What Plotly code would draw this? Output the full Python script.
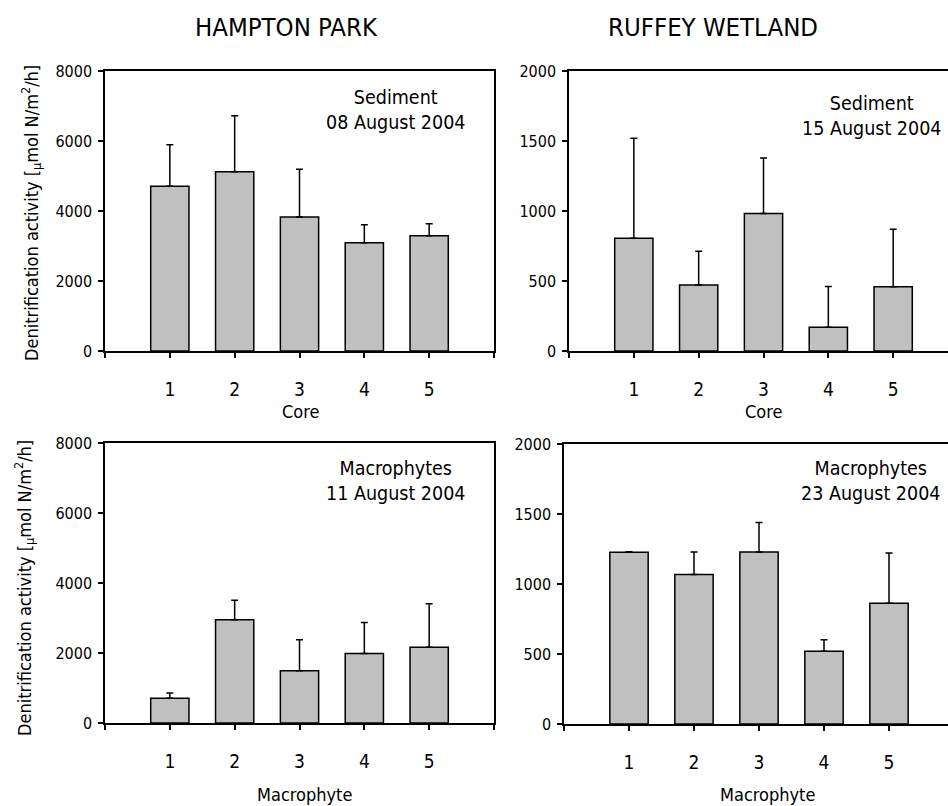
import plotly.graph_objects as go

W, H = 948, 806
FONT = "DejaVu Sans Condensed, Noto Sans, sans-serif"

categories = [1, 2, 3, 4, 5]
tick_labels = ["1", "2", "3", "4", "5"]

hp_sediment = [4710, 5120, 3830, 3090, 3290]
hp_sediment_sd = [1180, 1600, 1365, 515, 345]
rw_sediment = [806, 471, 982, 169, 459]
rw_sediment_sd = [714, 242, 397, 292, 411]
hp_macro = [706, 2950, 1490, 1986, 2167]
hp_macro_sd = [154, 554, 887, 888, 1241]
rw_macro = [1226, 1067, 1229, 519, 862]
rw_macro_sd = [5, 162, 211, 83, 359]

site_titles = ["HAMPTON PARK", "RUFFEY WETLAND"]
panel_notes = ["Sediment<br>08 August 2004", "Sediment<br>15 August 2004",
               "Macrophytes<br>11 August 2004", "Macrophytes<br>23 August 2004"]
x_titles = ["Core", "Core", "Macrophyte", "Macrophyte"]
y_title = "Denitrification activity [<sub>μ</sub>mol N/m<sup>2</sup>/h]"


def px(x):
    return x / W


def py(y):
    return 1 - y / H


panels = [
    dict(l=105, r=494, t=71, b=351, full=389, ymax=8000, dtick=2000,
         vals=hp_sediment, sd=hp_sediment_sd),
    dict(l=569, r=948, t=71, b=351, full=389, ymax=2000, dtick=500,
         vals=rw_sediment, sd=rw_sediment_sd),
    dict(l=105, r=494, t=443, b=723, full=389, ymax=8000, dtick=2000,
         vals=hp_macro, sd=hp_macro_sd),
    dict(l=564, r=948, t=444, b=724, full=390, ymax=2000, dtick=500,
         vals=rw_macro, sd=rw_macro_sd),
]

fig = go.Figure()
layout = dict(width=W, height=H, margin=dict(l=0, r=0, t=0, b=0, autoexpand=False),
              paper_bgcolor="white", plot_bgcolor="white", showlegend=False,
              font=dict(family=FONT, color="black"))

for i, p in enumerate(panels):
    n = i + 1
    xa = "x" if n == 1 else f"x{n}"
    ya = "y" if n == 1 else f"y{n}"
    fig.add_trace(go.Bar(
        x=categories, y=p["vals"], xaxis=xa, yaxis=ya, width=0.59,
        marker=dict(color="#C0C0C0", line=dict(color="black", width=1.5)),
        error_y=dict(type="data", array=p["sd"], arrayminus=[0] * 5,
                     symmetric=False, color="black", thickness=1.5, width=3.5),
        hoverinfo="skip"))
    right_panel = i % 2 == 1
    xmax = 6 * (p["r"] - p["l"]) / p["full"]
    layout["xaxis" if n == 1 else f"xaxis{n}"] = dict(
        domain=[px(p["l"]), px(p["r"])], range=[0, xmax], anchor=ya,
        tickmode="array", tickvals=categories, ticktext=tick_labels,
        ticks="outside", ticklen=5, tickwidth=1.5, tickcolor="black",
        minor=dict(tickmode="array", tickvals=[0, 6], ticks="outside",
                   ticklen=5, tickwidth=1.5, tickcolor="black", showgrid=False),
        showline=True, linecolor="black", linewidth=1.5, mirror=True,
        showgrid=False, zeroline=False, ticklabelstandoff=15, automargin=False,
        tickfont=dict(size=19, family=FONT), fixedrange=True)
    layout["yaxis" if n == 1 else f"yaxis{n}"] = dict(
        domain=[py(p["b"]), py(p["t"])], range=[0, p["ymax"]], anchor=xa,
        dtick=p["dtick"], tick0=0, ticks="outside", ticklen=5, tickwidth=1.5,
        tickcolor="black", showline=True, linecolor="black", linewidth=1.5,
        mirror=not right_panel, showgrid=False, zeroline=False,
        ticklabelstandoff=3, automargin=False,
        tickfont=dict(size=16, family=FONT), fixedrange=True)

annotations = []
for txt, cx in zip(site_titles, [286, 713]):
    annotations.append(dict(text=txt, x=px(cx), y=py(27), xref="paper", yref="paper",
                            showarrow=False, xanchor="center", yanchor="middle",
                            font=dict(size=25.5, family=FONT)))
for txt, (cx, cy) in zip(panel_notes, [(396, 110), (872, 116), (396, 481), (871, 481)]):
    annotations.append(dict(text=txt, x=px(cx), y=py(cy), xref="paper", yref="paper",
                            showarrow=False, xanchor="center", yanchor="middle",
                            align="center", font=dict(size=19.5, family=FONT)))
for txt, (cx, cy) in zip(x_titles, [(300, 411), (763, 411), (304, 794), (767, 794)]):
    annotations.append(dict(text=txt, x=px(cx), y=py(cy), xref="paper", yref="paper",
                            showarrow=False, xanchor="center", yanchor="middle",
                            font=dict(size=18, family=FONT)))
for (cx, cy) in [(31, 213), (24, 588)]:
    annotations.append(dict(text=y_title, x=px(cx), y=py(cy), xref="paper", yref="paper",
                            showarrow=False, xanchor="center", yanchor="middle",
                            textangle=-90, font=dict(size=18, family=FONT)))
layout["annotations"] = annotations

fig.update_layout(**layout)
fig.write_html("out.html", config={"displayModeBar": False},
               post_script="document.body.style.margin='0';"
                           "document.body.style.overflow='hidden';")
